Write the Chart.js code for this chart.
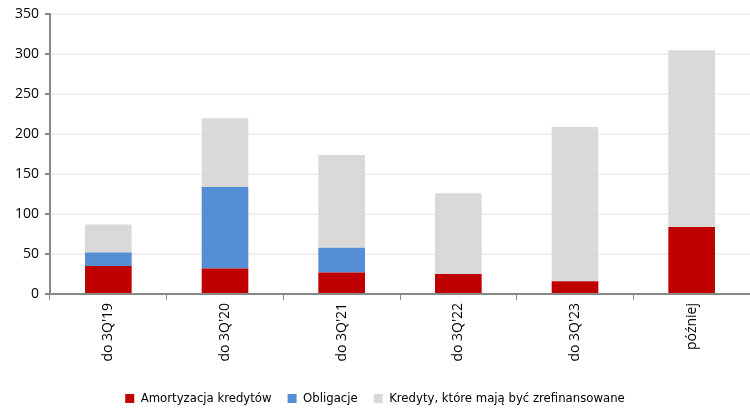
<!DOCTYPE html>
<html>
<head>
<meta charset="utf-8">
<script src="https://cdn.jsdelivr.net/npm/chart.js@4/dist/chart.umd.min.js"></script>
<style>
  html, body { margin: 0; padding: 0; background: #fff; }
  #wrap { width: 750px; height: 408px; position: relative; }
</style>
</head>
<body>
<div id="wrap"><canvas id="c"></canvas></div>
<script>
const categories = ["do 3Q'19", "do 3Q'20", "do 3Q'21", "do 3Q'22", "do 3Q'23", 'później'];
const amortyzacja = [35, 32, 27, 25, 16, 84];
const obligacje   = [17, 102, 31, 0, 0, 0];
const kredyty     = [35, 86, 116, 101, 193, 221];
const yTicks      = [0, 50, 100, 150, 200, 250, 300, 350];

const FONT        = { family: "'Open Sans', 'Liberation Sans', sans-serif", size: 14 };
const LEGEND_FONT = { family: "'DejaVu Sans Condensed', 'Liberation Sans', sans-serif", size: 13 };
const TEXT = '#000';

new Chart(document.getElementById('c'), {
  type: 'bar',
  data: {
    labels: categories,
    datasets: [
      { label: 'Amortyzacja kredytów', data: amortyzacja, backgroundColor: '#c00000' },
      { label: 'Obligacje', data: obligacje, backgroundColor: '#558ed5' },
      { label: 'Kredyty, które mają być zrefinansowane', data: kredyty, backgroundColor: '#d9d9d9' },
    ],
  },
  options: {
    responsive: true,
    maintainAspectRatio: false,
    animation: false,
    // negative bottom padding pushes the legend row down to the canvas edge
    layout: { padding: { left: 0, right: 0, top: 6, bottom: -7 } },
    datasets: { bar: { categoryPercentage: 1, barPercentage: 0.4 } },
    plugins: {
      tooltip: { enabled: false },
      legend: {
        position: 'bottom',
        labels: {
          color: TEXT,
          font: LEGEND_FONT,
          boxWidth: 9,
          boxHeight: 9,
          padding: 16,
        },
      },
    },
    scales: {
      x: {
        stacked: true,
        afterFit: (scale) => { scale.height = 82; },
        ticks: { color: TEXT, font: FONT, minRotation: 90, maxRotation: 90, padding: 3 },
        grid: { drawOnChartArea: false, color: '#888', tickLength: 6, offset: true },
        border: { color: '#888', width: 2 },
      },
      y: {
        stacked: true,
        min: 0,
        max: 350,
        afterFit: (scale) => { scale.width = 50; },
        afterBuildTicks: (axis) => { axis.ticks = yTicks.map((v) => ({ value: v })); },
        ticks: { color: TEXT, font: FONT, padding: 6 },
        grid: { color: '#f0f0f0', lineWidth: 2, tickLength: 5, tickColor: '#888' },
        border: { color: '#888', width: 2 },
      },
    },
  },
});
</script>
</body>
</html>
